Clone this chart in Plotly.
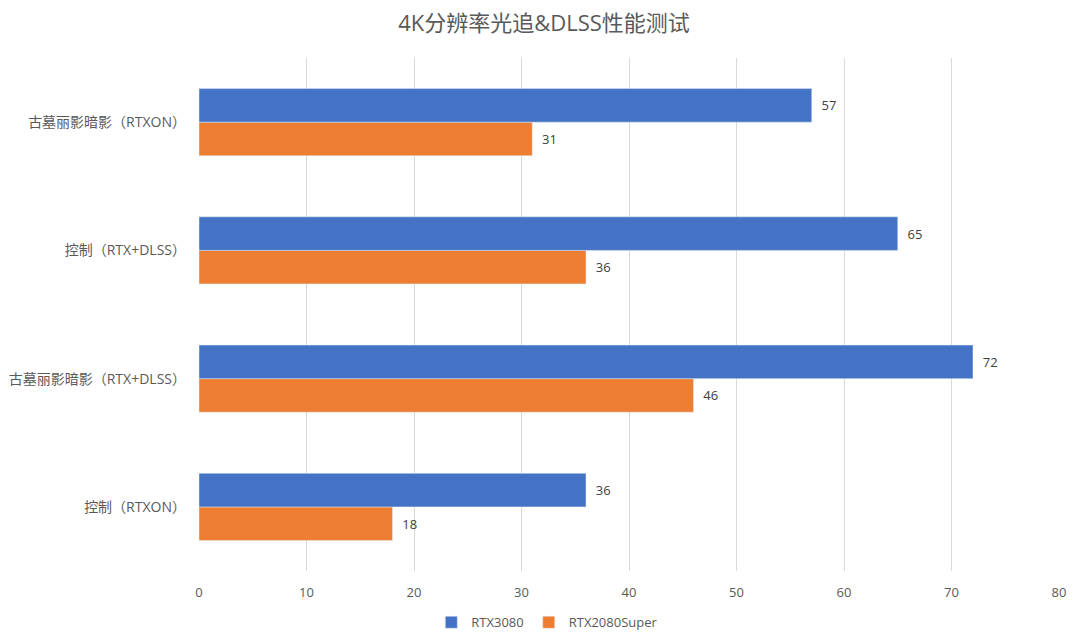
import plotly.graph_objects as go

categories = ["控制（RTXON）", "古墓丽影暗影（RTX+DLSS）", "控制（RTX+DLSS）", "古墓丽影暗影（RTXON）"]
rtx3080 = [36, 72, 65, 57]
rtx2080super = [18, 46, 36, 31]
x_ticks = [0, 10, 20, 30, 40, 50, 60, 70, 80]
title_text = "4K分辨率光追&DLSS性能测试"

FONT = "Open Sans, Noto Sans CJK SC, sans-serif"

fig = go.Figure()
fig.add_trace(go.Bar(
    y=categories, x=rtx2080super, name="RTX2080Super", orientation="h",
    marker=dict(color="#ED7D31"), text=rtx2080super, textposition="outside",
    texttemplate="\u00a0\u00a0%{text}",
    textfont=dict(color="#404040", size=13, family=FONT), cliponaxis=False,
))
fig.add_trace(go.Bar(
    y=categories, x=rtx3080, name="RTX3080", orientation="h",
    marker=dict(color="#4472C4"), text=rtx3080, textposition="outside",
    texttemplate="\u00a0\u00a0%{text}",
    textfont=dict(color="#404040", size=13, family=FONT), cliponaxis=False,
))

fig.update_layout(
    width=1072, height=634,
    barmode="group", bargap=0.477, bargroupgap=0,
    plot_bgcolor="white", paper_bgcolor="white",
    margin=dict(l=191, r=21, t=50, b=71, autoexpand=False),
    font=dict(family=FONT, color="#595959", size=13),
    title=dict(text=title_text, x=0.5, xanchor="center", y=0.976, yanchor="middle",
               font=dict(size=22, color="#595959", family=FONT)),
    xaxis=dict(range=[0, 80], tickvals=x_ticks, showgrid=True, gridcolor="#D9D9D9",
               gridwidth=1, zeroline=False, showline=False, ticks="", automargin=False,
               tickfont=dict(size=13, color="#595959"), ticklabelstandoff=12),
    yaxis=dict(categoryorder="array", categoryarray=categories, showgrid=False,
               zeroline=False, showline=False, ticks="", automargin=False,
               tickfont=dict(size=14, color="#595959"), ticklabelstandoff=12),
    legend=dict(orientation="h", x=0.405, xanchor="center", y=-0.1, yanchor="middle",
                traceorder="reversed", font=dict(size=13, color="#595959"),
                itemwidth=30),
    showlegend=True,
)

fig.write_html("out.html")
